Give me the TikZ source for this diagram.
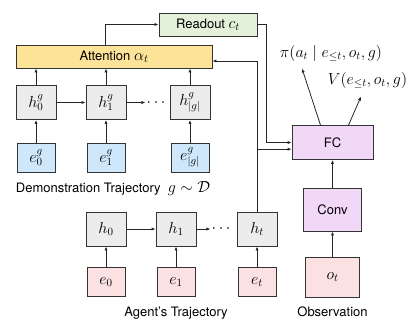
\RequirePackage{fix-cm}
\documentclass[tikz,border=0pt]{standalone}
\usepackage{fontspec}
\setmainfont{TeX Gyre Heros}
\DeclareMathSizes{13}{16}{11}{8}
\usetikzlibrary{arrows.meta}
\definecolor{cgreen}{HTML}{E3F0DA}
\definecolor{cyellow}{HTML}{FDE397}
\definecolor{cgray}{HTML}{ECECEC}
\definecolor{cblue}{HTML}{CFE7FA}
\definecolor{cpink}{HTML}{FBE1E1}
\definecolor{cpurple}{HTML}{F1D8F6}
\begin{document}
\fontsize{13}{15}\selectfont
\begin{tikzpicture}[x=1pt,y=-1pt,
  font=\fontsize{13}{15}\selectfont,
  box/.style={draw=black!80, line width=0.8pt, inner sep=0pt},
  hbox/.style={box, fill=cgray, minimum width=40pt, minimum height=34pt},
  gbox/.style={box, fill=cblue, minimum width=38pt, minimum height=29pt},
  pbox/.style={box, fill=cpink, minimum width=38pt, minimum height=29pt},
  lbl/.style={inner sep=0pt, anchor=base},
  arr/.style={-{Latex[length=4pt,width=3.2pt]}, line width=0.8pt, draw=black!85}]
\useasboundingbox (0,0) rectangle (412,325);

% demonstration
\node[box, fill=cgreen, minimum width=98pt, minimum height=23pt] (rd) at (208,24.5) {Readout $c_t$};
\node[box, fill=cyellow, minimum width=196pt, minimum height=23pt] (att) at (114,56.5) {Attention $\alpha_t$};
\node[hbox] (hg0) at (36,102.5) {$h_0^g$};
\node[hbox] (hg1) at (106,102.5) {$h_1^g$};
\node[inner sep=1pt] (dg) at (156,102.5) {$\cdots$};
\node[hbox] (hgn) at (190,102.5) {$h_{|g|}^g$};
\node[gbox] (eg0) at (36,157.5) {$e_0^g$};
\node[gbox] (eg1) at (106,157.5) {$e_1^g$};
\node[gbox] (egn) at (190,157.5) {$e_{|g|}^g$};
\node[lbl] (demo) at (113,192) {Demonstration Trajectory~~$g\sim\mathcal{D}$};

% agent
\node[hbox] (h0) at (106,229) {$h_0$};
\node[hbox] (h1) at (176,229) {$h_1$};
\node[inner sep=1pt] (da) at (221,229) {$\cdots$};
\node[hbox] (ht) at (257,229) {$h_t$};
\node[pbox] (e0) at (106,282) {$e_0$};
\node[pbox] (e1) at (176,282) {$e_1$};
\node[pbox] (et) at (257,282) {$e_t$};
\node[lbl] (agent) at (176,316) {Agent's Trajectory};

% observation
\node[box, fill=cpurple, minimum width=81pt, minimum height=34pt] (fc) at (332.5,142.5) {FC};
\node[box, fill=cpurple, minimum width=58pt, minimum height=43pt] (conv) at (332.5,209.5) {Conv};
\node[pbox, minimum width=54pt, minimum height=40pt] (ot) at (332.5,277) {$o_t$};
\node[lbl] (obs) at (332.5,316) {Observation};

% outputs
\node (pi) at (331,53) {$\pi(a_t\mid e_{\le t},o_t,g)$};
\node (vv) at (367.5,80.5) {$V(e_{\le t},o_t,g)$};
\coordinate (pitip) at (302,68.5);
\coordinate (vtip) at (361,96.5);

% connectors demonstration
\foreach \e/\h in {eg0/hg0, eg1/hg1, egn/hgn, e0/h0, e1/h1, et/ht}
  \draw[arr] (\e.north) -- (\h.south);
\foreach \h in {hg0, hg1, hgn}
  \draw[arr] (\h.north) -- (\h.north |- att.south);
\draw[arr] (hg0) -- (hg1);
\draw[arr] (hg1) -- (dg);
\draw[arr] (h0) -- (h1);
\draw[arr] (h1) -- (da);
\draw[arr] ([xshift=-9pt]att.north) |- (rd.west);

% to FC
\draw[arr] (rd.east) -- ++(9,0) |- (fc.west);
\draw[arr] (ht.north) |- ([yshift=-4.5pt]att.east);
\coordinate (fcin) at ([yshift=-6.7pt]fc.west);
\draw[arr] (fcin -| ht.north) -- (fcin);
\draw[arr] (ot) -- (conv);
\draw[arr] (conv) -- (fc);
\draw[arr] ([xshift=-12pt]fc.north) -- (pitip);
\draw[arr] ([xshift=16pt]fc.north) -- (vtip);
\end{tikzpicture}
\end{document}
